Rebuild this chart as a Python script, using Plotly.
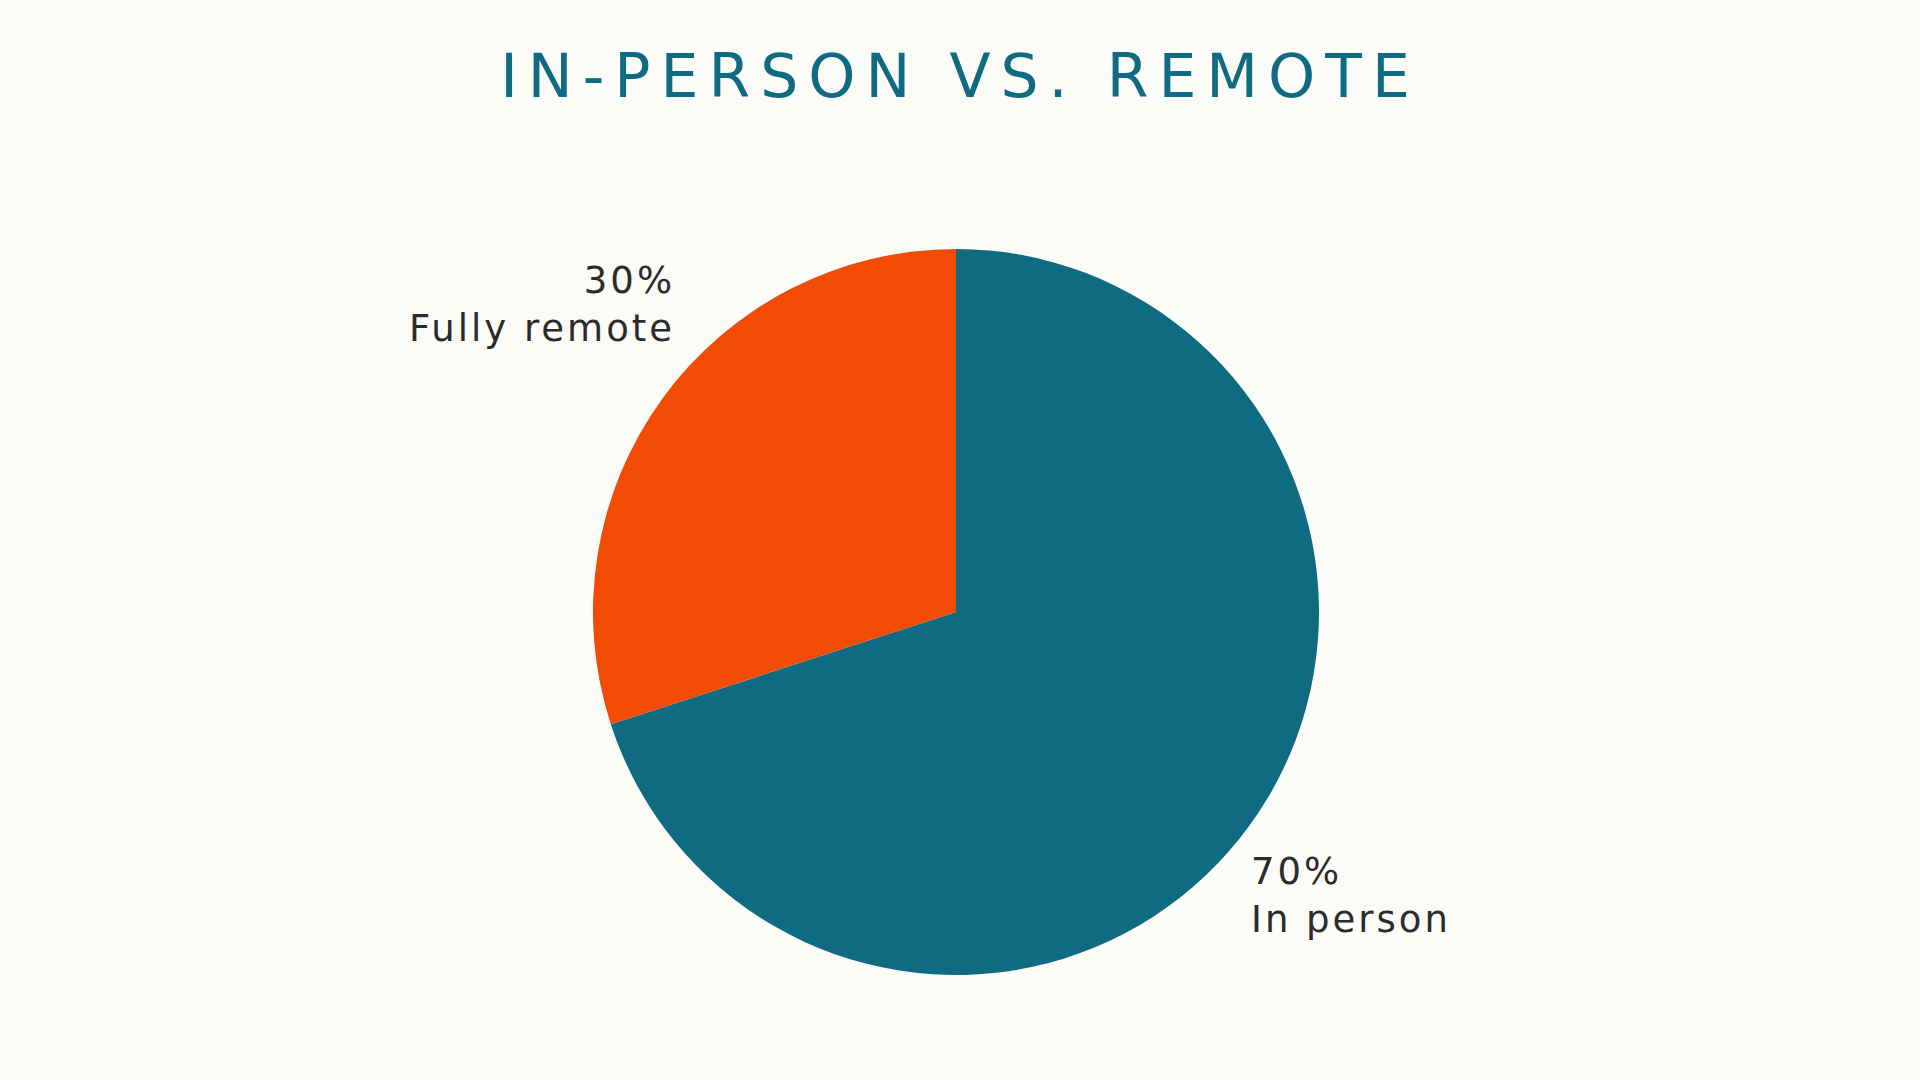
import plotly.graph_objects as go

# data
labels = ['In person', 'Fully remote']
values = [70, 30]
colors = ['#0E6B82', '#F24C04']

bg = '#FBFBF8'
label_font = dict(family='DejaVu Sans', size=37, color='#2B2B2B')

fig = go.Figure()
fig.add_trace(go.Pie(labels=labels, values=values, sort=False, direction='clockwise', rotation=0,
                     marker=dict(colors=colors, line=dict(width=0)),
                     textinfo='none', showlegend=False, hoverinfo='label+percent',
                     domain=dict(x=[0, 1], y=[0, 1])))

# slice labels sit well away from the pie, like in the original
total = sum(values)
pct = [round(v / total * 100) for v in values]
fig.add_annotation(text='%d%%<br>%s' % (pct[1], labels[1]), x=0.354, y=0.923, xref='paper', yref='paper',
                   xanchor='right', yanchor='middle', align='right', showarrow=False, font=label_font)
fig.add_annotation(text='%d%%<br>%s' % (pct[0], labels[0]), x=0.6532, y=0.110, xref='paper', yref='paper',
                   xanchor='left', yanchor='middle', align='left', showarrow=False, font=label_font)

fig.update_layout(title=dict(text='IN-PERSON VS. REMOTE', x=0.5, xanchor='center', y=0.93, yanchor='middle',
                             font=dict(family='DejaVu Sans', size=60, color='#106B82')),
                  paper_bgcolor=bg, plot_bgcolor=bg,
                  margin=dict(l=0, r=8, t=249, b=105),
                  width=1920, height=1080)

# widen the text a little, the original uses a broad display face
js = ("document.body.style.margin='0';document.body.style.background='%s';"
      "document.querySelectorAll('.gtitle').forEach(function(t){t.style.letterSpacing='10px';});"
      "document.querySelectorAll('.annotation-text').forEach(function(t){t.style.letterSpacing='3px';});" % bg)
fig.write_html("out.html", post_script=js, config={'displayModeBar': False})
